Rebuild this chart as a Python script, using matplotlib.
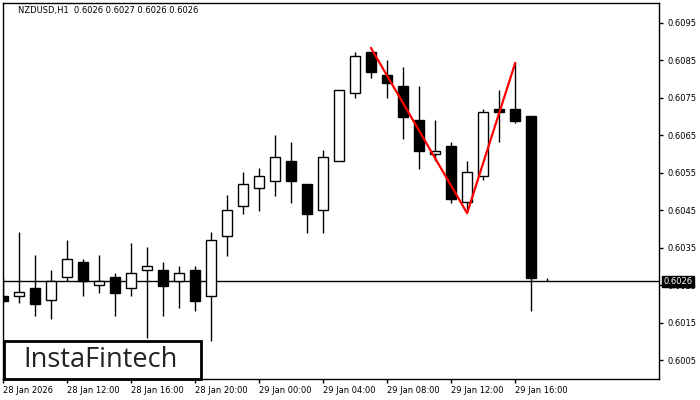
import matplotlib
matplotlib.use('Agg')
import matplotlib.pyplot as plt
from matplotlib.patches import Rectangle

# ---------------------- Data ----------------------

opens = [0.60221, 0.60221, 0.60243, 0.60210, 0.60271, 0.60312, 0.60250, 0.60271,
         0.60242, 0.60290, 0.60290, 0.60261, 0.60290, 0.60220, 0.60381, 0.60461,
         0.60510, 0.60529, 0.60581, 0.60519, 0.60450, 0.60581, 0.60762, 0.60872,
         0.60811, 0.60781, 0.60690, 0.60599, 0.60621, 0.60471, 0.60541, 0.60719,
         0.60719, 0.60701, 0.60260]
highs = [0.60272, 0.60392, 0.60331, 0.60291, 0.60371, 0.60319, 0.60331, 0.60282,
         0.60362, 0.60351, 0.60311, 0.60301, 0.60301, 0.60391, 0.60490, 0.60551,
         0.60562, 0.60651, 0.60632, 0.60519, 0.60611, 0.60770, 0.60872, 0.60872,
         0.60851, 0.60832, 0.60781, 0.60691, 0.60631, 0.60581, 0.60719, 0.60771,
         0.60842, 0.60701, 0.60270]
lows = [0.60203, 0.60202, 0.60169, 0.60160, 0.60261, 0.60220, 0.60230, 0.60169,
        0.60220, 0.60110, 0.60169, 0.60190, 0.60180, 0.60100, 0.60329, 0.60441,
        0.60449, 0.60489, 0.60470, 0.60390, 0.60390, 0.60581, 0.60750, 0.60801,
        0.60750, 0.60641, 0.60561, 0.60581, 0.60470, 0.60453, 0.60530, 0.60631,
        0.60682, 0.60180, 0.60260]
closes = [0.60208, 0.60232, 0.60201, 0.60261, 0.60319, 0.60261, 0.60261, 0.60230,
          0.60282, 0.60301, 0.60249, 0.60282, 0.60209, 0.60370, 0.60450, 0.60519,
          0.60541, 0.60591, 0.60529, 0.60441, 0.60591, 0.60770, 0.60861, 0.60819,
          0.60790, 0.60699, 0.60609, 0.60609, 0.60481, 0.60551, 0.60711, 0.60711,
          0.60689, 0.60270, 0.60260]

# pattern line: bar index and price
pattern_idx = [23, 29, 32]
pattern_price = [0.60882, 0.60442, 0.60842]

tick_idx = [0, 4, 8, 12, 16, 20, 24, 28, 32]
tick_labels = ['28 Jan 2026', '28 Jan 12:00', '28 Jan 16:00', '28 Jan 20:00',
               '29 Jan 00:00', '29 Jan 04:00', '29 Jan 08:00', '29 Jan 12:00',
               '29 Jan 16:00']
price_ticks = [0.6005, 0.6015, 0.6025, 0.6035, 0.6045, 0.6055, 0.6065, 0.6075, 0.6085, 0.6095]

last_price = 0.6026
title = 'NZDUSD,H1  0.6026 0.6027 0.6026 0.6026'

# ---------------------- Plot ----------------------

fig = plt.figure(figsize=(7, 4), dpi=100)
ax = fig.add_axes([2.7 / 700, 21 / 400, 656.6 / 700, 376.3 / 400])

width = 0.65
for i in range(len(opens)):
    o, h, l, c = opens[i], highs[i], lows[i], closes[i]
    ax.vlines(i, l, h, color='black', linewidth=1, zorder=2)
    bottom = min(o, c)
    height = abs(c - o)
    if height == 0:
        continue
    fill = 'black' if c < o else 'white'
    ax.bar(i, height, width, bottom=bottom, color=fill, edgecolor='black',
           linewidth=1, zorder=3)

ax.axhline(last_price, color='black', linewidth=1, zorder=1)
ax.plot(pattern_idx, pattern_price, color='red', linewidth=1.6, zorder=4)

ax.set_xlim(0, 41)
ax.set_ylim(0.60000, 0.61003)

ax.set_xticks(tick_idx)
ax.set_xticklabels(tick_labels)
for lbl in ax.get_xticklabels():
    lbl.set_horizontalalignment('left')
ax.tick_params(axis='x', length=3, width=1, pad=2, labelsize=6)

ax.yaxis.tick_right()
ax.set_yticks(price_ticks)
ax.set_yticklabels([f'{p:.4f}' for p in price_ticks])
ax.tick_params(axis='y', length=3, width=1, pad=3, labelsize=6)

for s in ax.spines.values():
    s.set_color('black')
    s.set_linewidth(1)

# current price label on the right axis
ax.annotate(f'{last_price:.4f}', xy=(1, last_price), xycoords=('axes fraction', 'data'),
            xytext=(3, 0), textcoords='offset points', ha='left', va='center',
            fontsize=6, color='white',
            bbox=dict(boxstyle='square,pad=0.15', fc='black', ec='black'),
            annotation_clip=False, zorder=10)

fig.text(18 / 700, 1 - 10 / 400, title, fontsize=6, ha='left', va='center')

# logo box
fig.patches.append(Rectangle((3.5 / 700, 21.5 / 400), 197 / 700, 37.5 / 400,
                             transform=fig.transFigure, fill=True, fc='white',
                             ec='black', linewidth=2, zorder=20))
fig.text(101 / 700, 40 / 400, 'InstaFintech', fontsize=19.5, color='#222222',
         family='Open Sans', ha='center', va='center', zorder=21)

fig.savefig('out.png', dpi=100)
